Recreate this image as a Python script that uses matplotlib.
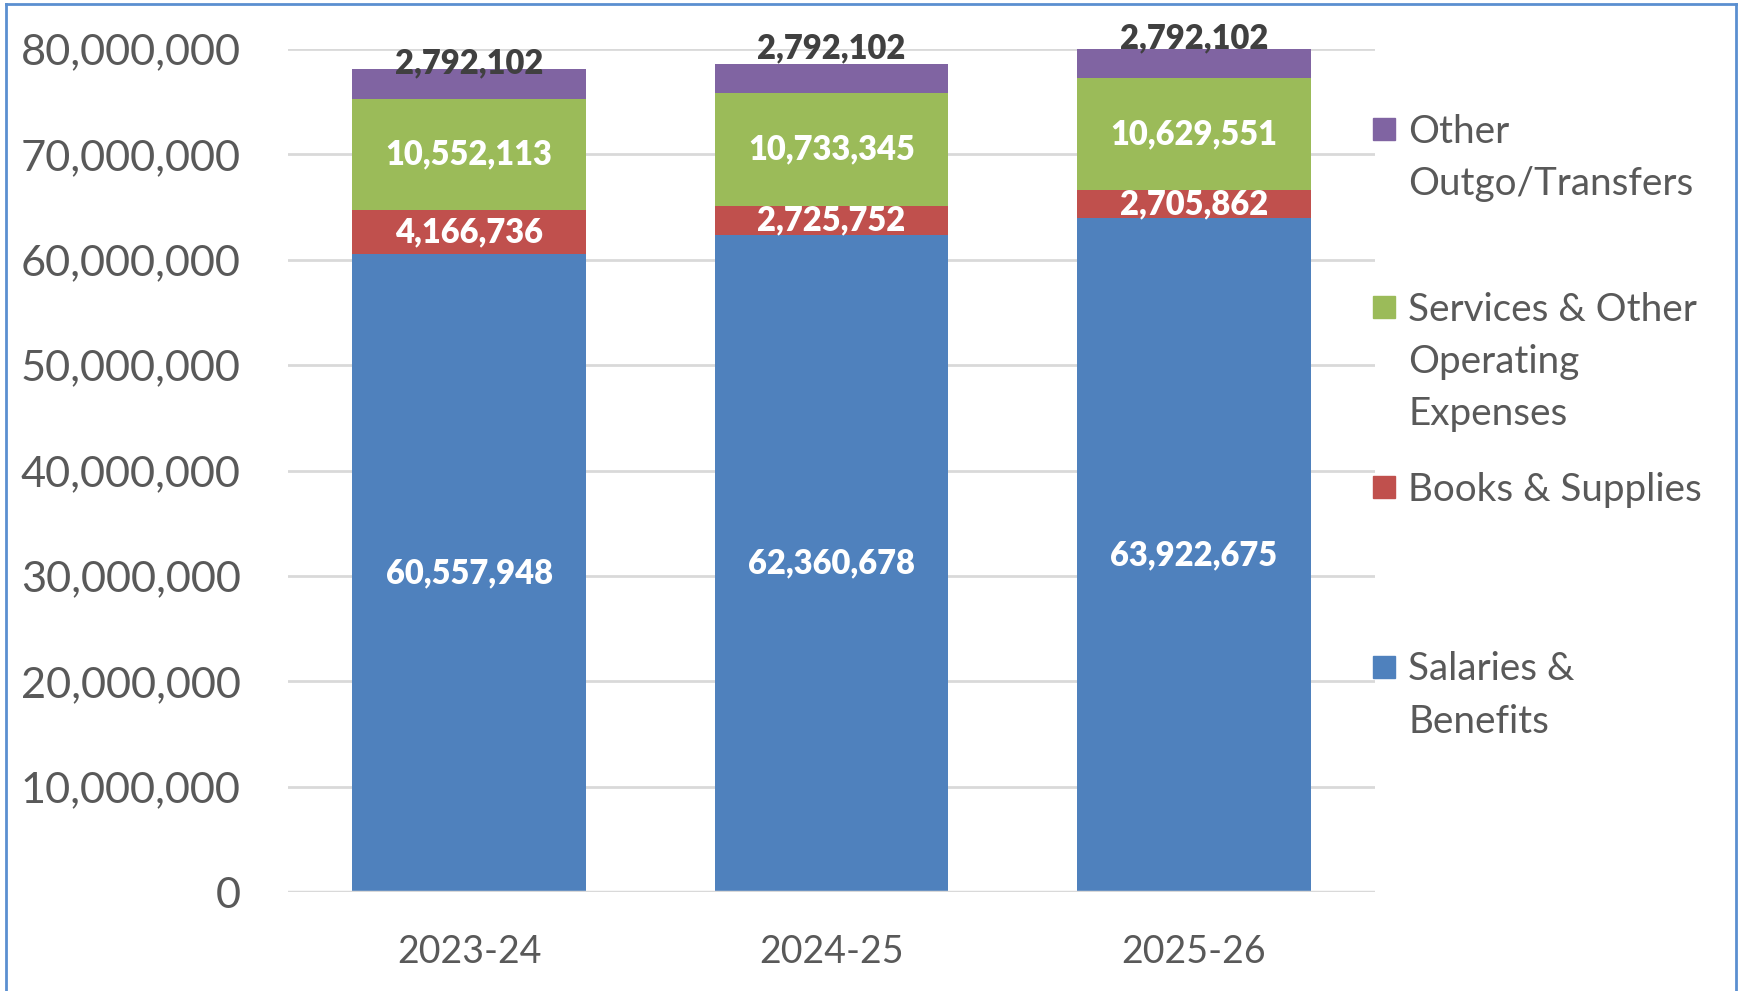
import matplotlib
matplotlib.use("Agg")
import matplotlib.pyplot as plt
from matplotlib.lines import Line2D
from matplotlib.patches import Rectangle
from matplotlib.ticker import FuncFormatter
import numpy as np

categories = ["2023-24", "2024-25", "2025-26"]
series_names = ["Salaries & Benefits", "Books & Supplies",
                "Services & Other Operating Expenses", "Other Outgo/Transfers"]
legend_labels = ["Salaries &\nBenefits", "Books & Supplies",
                 "Services & Other\nOperating\nExpenses", "Other\nOutgo/Transfers"]
salaries = [60557948, 62360678, 63922675]
books = [4166736, 2725752, 2705862]
services = [10552113, 10733345, 10629551]
other = [2792102, 2792102, 2792102]
yticks = [0, 10000000, 20000000, 30000000, 40000000, 50000000, 60000000, 70000000, 80000000]

colors = ["#4F81BD", "#C0504D", "#9BBB59", "#8064A2"]
FONT = "Lato"
TXT = "#595959"

fig = plt.figure(figsize=(17.39, 9.91), dpi=100)
ax = fig.add_axes([288/1739, 1-892/991, (1375-288)/1739, (892-49)/991])

x = np.arange(len(categories))
width = 0.645
data = [salaries, books, services, other]
bottom = np.zeros(len(categories))
for i, (vals, col) in enumerate(zip(data, colors)):
    vals = np.array(vals, dtype=float)
    bars = ax.bar(x, vals, width, bottom=bottom, color=col, zorder=3, linewidth=0)
    if i < 3:
        for xi, b, v in zip(x, bottom, vals):
            ax.text(xi, b + v/2, f"{int(v):,}", ha="center", va="center",
                    color="white", fontsize=23.5, fontweight="heavy", family=FONT, zorder=5)
    else:
        offs = [6, 15, 10]
        for xi, b, v, o in zip(x, bottom, vals, offs):
            ax.annotate(f"{int(v):,}", (xi, b + v), xytext=(0, o), textcoords="offset pixels",
                        ha="center", va="center", color="#404040", fontsize=23.5,
                        fontweight="heavy", family=FONT, zorder=5, annotation_clip=False)
    bottom = bottom + vals

ax.set_xlim(-0.5, 2.5)
ax.set_ylim(0, 80000000)
ax.set_yticks(yticks)
ax.yaxis.set_major_formatter(FuncFormatter(lambda v, p: f"{int(v):,}"))
ax.set_xticks(x)
ax.set_xticklabels(categories)
for lab in ax.get_yticklabels():
    lab.set_fontsize(31.2); lab.set_family(FONT); lab.set_color(TXT)
for lab in ax.get_xticklabels():
    lab.set_fontsize(27); lab.set_family(FONT); lab.set_color(TXT)
ax.tick_params(axis="both", length=0)
ax.tick_params(axis="y", pad=34)
ax.tick_params(axis="x", pad=30)
ax.grid(axis="y", color="#D9D9D9", linewidth=2, zorder=0)
for s in ax.spines.values():
    s.set_visible(False)
ax.axhline(0, color="#D9D9D9", linewidth=2.5, zorder=4)

# legend (manual, reversed order)
ys = [666.5, 487, 307, 128.6]
for lab, col, yc in zip(legend_labels, colors, ys):
    fig.patches.append(Rectangle((1373/1739, 1-(yc+11)/991), 22/1739, 22/991,
                                 transform=fig.transFigure, color=col))
    fig.text(1408/1739, 1-(yc-15)/991, lab, ha="left", va="top", fontsize=27.8,
             family=FONT, color=TXT, linespacing=1.56)

# border
bc = "#5B8FD0"
for xs, ysb in [((6, 6), (4, 995)), ((6, 1736), (4, 4)), ((1736, 1736), (4, 995))]:
    fig.add_artist(Line2D([v/1739 for v in xs], [1-v/991 for v in ysb],
                          transform=fig.transFigure, color=bc, linewidth=2))

fig.savefig("out.png", dpi=100)
